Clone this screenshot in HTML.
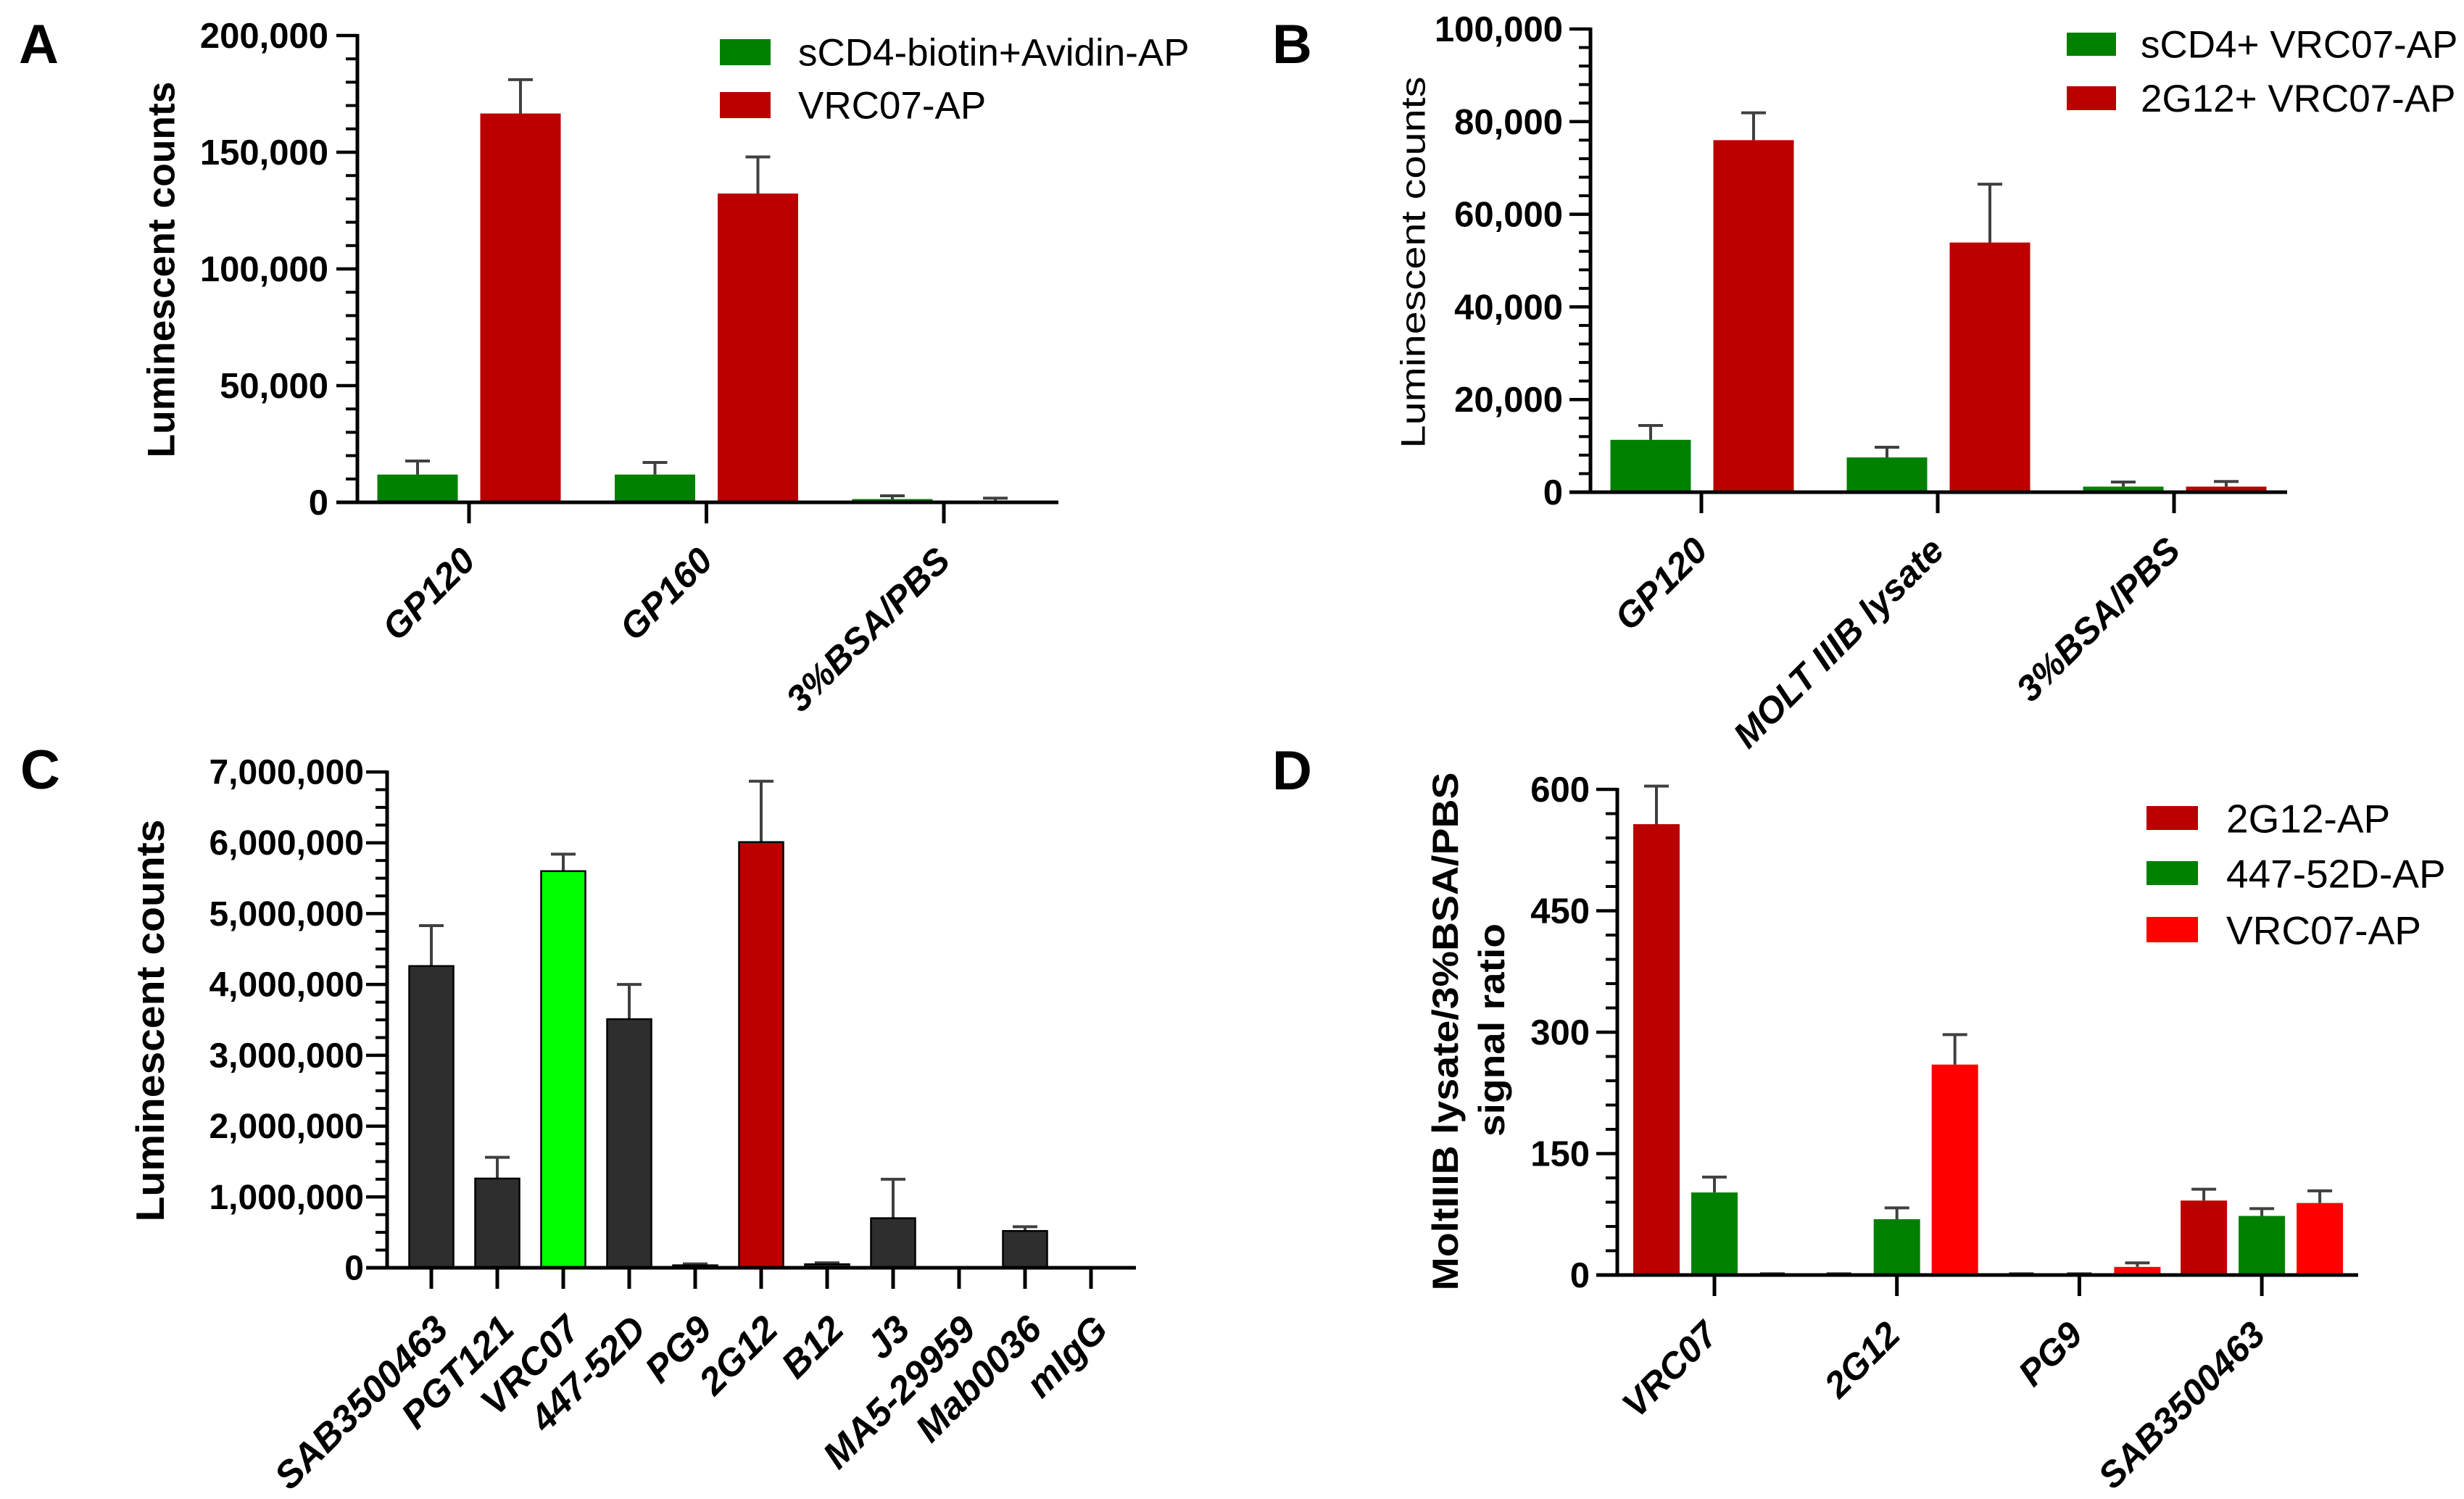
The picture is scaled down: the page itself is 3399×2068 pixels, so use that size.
<!DOCTYPE html>
<html>
<head>
<meta charset="utf-8">
<style>
html,body{margin:0;padding:0;background:#fff;overflow:hidden;}
svg{display:block;}
text{font-family:"Liberation Sans",Arial,sans-serif;}
</style>
</head>
<body>
<svg id="fig" xmlns="http://www.w3.org/2000/svg" width="3399" height="2068" viewBox="0 0 3399 2068">
<rect x="0" y="0" width="3399" height="2068" fill="#fff"/>
</svg>
<script>
// ---------- data ----------
const aCats = ["GP120", "GP160", "3%BSA/PBS"];
const aSeriesNames = ["sCD4-biotin+Avidin-AP", "VRC07-AP"];
const aGreen = [11900, 11900, 1400];
const aGreenSd = [5800, 5200, 1400];
const aRed = [166600, 132300, 500];
const aRedSd = [14500, 15700, 1300];
const aTicks = [0, 50000, 100000, 150000, 200000];
const aTickLabels = ["0", "50,000", "100,000", "150,000", "200,000"];

const bCats = ["GP120", "MOLT IIIB lysate", "3%BSA/PBS"];
const bSeriesNames = ["sCD4+ VRC07-AP", "2G12+ VRC07-AP"];
const bGreen = [11300, 7500, 1200];
const bGreenSd = [3100, 2200, 1000];
const bRed = [76000, 53900, 1200];
const bRedSd = [5900, 12600, 1100];
const bTicks = [0, 20000, 40000, 60000, 80000, 100000];
const bTickLabels = ["0", "20,000", "40,000", "60,000", "80,000", "100,000"];

const cCats = ["SAB3500463", "PGT121", "VRC07", "447-52D", "PG9", "2G12", "B12", "J3", "MA5-29959", "Mab0036", "mIgG"];
const cVals = [4260000, 1260000, 5600000, 3510000, 35000, 6010000, 50000, 700000, 0, 520000, 0];
const cSd = [570000, 300000, 240000, 490000, 20000, 860000, 20000, 550000, 0, 60000, 0];
const cTicks = [0, 1000000, 2000000, 3000000, 4000000, 5000000, 6000000, 7000000];
const cTickLabels = ["0", "1,000,000", "2,000,000", "3,000,000", "4,000,000", "5,000,000", "6,000,000", "7,000,000"];

const dCats = ["VRC07", "2G12", "PG9", "SAB3500463"];
const dSeriesNames = ["2G12-AP", "447-52D-AP", "VRC07-AP"];
const d2G12 = [557, 1, 1, 92];
const d2G12Sd = [47, 0.6, 0.6, 14];
const d447 = [102, 69, 1, 73];
const d447Sd = [19, 14, 0.6, 9];
const dVRC = [1, 260, 10, 89];
const dVRCSd = [0.6, 37, 5, 15];
const dTicks = [0, 150, 300, 450, 600];
const dTickLabels = ["0", "150", "300", "450", "600"];

// ---------- helpers ----------
const NS = "http://www.w3.org/2000/svg";
const svg = document.getElementById("fig");
function mk(tag, parent) { const e = document.createElementNS(NS, tag); parent.appendChild(e); return e; }
function txt(parent, str, x, y, size, o) {
  const t = mk("text", parent);
  t.textContent = str;
  t.setAttribute("transform", "translate(" + x + "," + y + ") rotate(" + (o.rot || 0) + ")");
  t.setAttribute("font-size", size);
  t.setAttribute("font-weight", o.weight || "bold");
  if (o.italic) t.setAttribute("font-style", "italic");
  t.setAttribute("text-anchor", o.anchor || "start");
  t.setAttribute("dominant-baseline", o.baseline || "central");
  t.setAttribute("fill", "#000");
  if (o.len) { t.setAttribute("textLength", o.len); t.setAttribute("lengthAdjust", "spacingAndGlyphs"); }
  return t;
}
function line(parent, x1, y1, x2, y2, w, c) {
  const l = mk("line", parent);
  l.setAttribute("x1", x1); l.setAttribute("y1", y1); l.setAttribute("x2", x2); l.setAttribute("y2", y2);
  l.setAttribute("stroke", c || "#000"); l.setAttribute("stroke-width", w);
  return l;
}

function drawChart(cfg) {
  const g = mk("g", svg);
  
  
  const yScale = v => cfg.y0 - (v / cfg.max) * (cfg.y0 - cfg.yTop);
  const xScale = i => cfg.catStart + i * cfg.catStep;

  for (let v = 0; v <= cfg.max + 1e-9; v += cfg.minor) {
    const tk = line(g, cfg.axisX - 16, yScale(v), cfg.axisX, yScale(v), 4);
    
    
  }
  cfg.ticks.forEach((v, i) => {
    const tk = line(g, cfg.axisX - 29, yScale(v), cfg.axisX, yScale(v), 4.5);
    
    
    const lb = txt(g, cfg.tickLabels[i], cfg.axisX - cfg.labelGap, yScale(v) + 1, cfg.tickSize, { anchor: "end" });
    
    
  });

  cfg.series.forEach((s, si) => {
    s.vals.forEach((v, i) => {
      const cx = xScale(i) + cfg.offsets[si];
      const col = s.colors ? s.colors[i] : s.color;
      const top = yScale(v);
      const eb = yScale(v + s.sd[i]);
      const el = line(g, cx, top, cx, eb, 4, "#404040");
      
      
      const cap = line(g, cx - 17, eb, cx + 17, eb, 4, "#404040");
      
      
      const r = mk("rect", g);
      r.setAttribute("x", cx - cfg.barW / 2);
      r.setAttribute("y", top);
      r.setAttribute("width", cfg.barW);
      r.setAttribute("height", Math.max(0, cfg.y0 - top));
      r.setAttribute("fill", col);
      if (cfg.outline) { r.setAttribute("stroke", "#000"); r.setAttribute("stroke-width", 2.5); }
      
      
    });
  });

  const ya = line(g, cfg.axisX, cfg.yTop - 2, cfg.axisX, cfg.y0 + 2, 5);
  
  
  const xa = line(g, cfg.axisX - 29, cfg.y0, cfg.xEnd, cfg.y0, 5);
  
  

  cfg.cats.forEach((c, i) => {
    const x = xScale(i);
    const tk = line(g, x, cfg.y0, x, cfg.y0 + 29, 5);
    
    
    const lb = txt(g, c, x + cfg.catDx, cfg.y0 + cfg.catDy, cfg.catSize, { anchor: "end", italic: true, rot: -45, baseline: "hanging" });
    
    
  });

  cfg.yTitles.forEach(t => {
    const yt = txt(g, t.text, t.x, t.y, t.size, { anchor: "middle", rot: -90, weight: t.weight, len: t.len });
    
    
  });

  (cfg.legend || []).forEach(L => {
    const sw = mk("rect", g);
    sw.setAttribute("x", L.x); sw.setAttribute("y", L.y);
    sw.setAttribute("width", L.w); sw.setAttribute("height", L.h);
    sw.setAttribute("fill", L.color);
    
    
    const lt = txt(g, L.text, L.tx, L.y + L.h / 2 + 1, L.size, { weight: "normal" });
    
    
  });

  const pl = txt(g, cfg.letter, cfg.letterX, cfg.letterY, 76, { baseline: "alphabetic" });
  
  
}

const GREEN = "#008000", DRED = "#bb0000", RED = "#ff0000", LIME = "#00ff00", DARK = "#2e2e2e";

drawChart({
  name: "panel-a-chart", letter: "A", letterX: 26, letterY: 87,
  axisX: 493, y0: 693, yTop: 49, max: 200000, minor: 10000, xEnd: 1460,
  ticks: aTicks, tickLabels: aTickLabels, tickSize: 49, labelGap: 40,
  cats: aCats, catStart: 647, catStep: 327.5, barW: 111, offsets: [-71, 71], catSize: 50, catDx: -14, catDy: 58,
  series: [{ vals: aGreen, sd: aGreenSd, color: GREEN }, { vals: aRed, sd: aRedSd, color: DRED }],
  yTitles: [{ text: "Luminescent counts", x: 223, y: 372, size: 53, weight: "bold", len: 519 }],
  legend: [
    { x: 993, y: 54, w: 70, h: 36, color: GREEN, text: aSeriesNames[0], tx: 1101, size: 53 },
    { x: 993, y: 127, w: 70, h: 36, color: DRED, text: aSeriesNames[1], tx: 1101, size: 53 }
  ]
});

drawChart({
  name: "panel-b-chart", letter: "B", letterX: 1755, letterY: 87,
  axisX: 2194, y0: 679, yTop: 40, max: 100000, minor: 4000, xEnd: 3155,
  ticks: bTicks, tickLabels: bTickLabels, tickSize: 49, labelGap: 38,
  cats: bCats, catStart: 2347, catStep: 326, barW: 111, offsets: [-70, 72], catSize: 50, catDx: -14, catDy: 58,
  series: [{ vals: bGreen, sd: bGreenSd, color: GREEN }, { vals: bRed, sd: bRedSd, color: DRED }],
  yTitles: [{ text: "Luminescent counts", x: 1949, y: 362, size: 47, weight: "normal", len: 513 }],
  legend: [
    { x: 2851, y: 45, w: 68, h: 32, color: GREEN, text: bSeriesNames[0], tx: 2953, size: 53 },
    { x: 2851, y: 119, w: 68, h: 33, color: DRED, text: bSeriesNames[1], tx: 2953, size: 53 }
  ]
});

drawChart({
  name: "panel-c-chart", letter: "C", letterX: 28, letterY: 1088,
  axisX: 534, y0: 1749, yTop: 1065, max: 7000000, minor: 250000, xEnd: 1567,
  ticks: cTicks, tickLabels: cTickLabels, tickSize: 48, labelGap: 32,
  cats: cCats, catStart: 595, catStep: 91, barW: 61, offsets: [0], catSize: 52, catDx: 0, catDy: 62, outline: true,
  series: [{ vals: cVals, sd: cSd, colors: [DARK, DARK, LIME, DARK, DARK, DRED, DARK, DARK, DARK, DARK, DARK] }],
  yTitles: [{ text: "Luminescent counts", x: 207, y: 1408, size: 55, weight: "bold", len: 555 }]
});

drawChart({
  name: "panel-d-chart", letter: "D", letterX: 1755, letterY: 1089,
  axisX: 2231, y0: 1759, yTop: 1089, max: 600, minor: 30, xEnd: 3253,
  ticks: dTicks, tickLabels: dTickLabels, tickSize: 49, labelGap: 38,
  cats: dCats, catStart: 2365, catStep: 251.7, barW: 64, offsets: [-80, 0, 80], catSize: 50, catDx: -18, catDy: 60,
  series: [{ vals: d2G12, sd: d2G12Sd, color: DRED }, { vals: d447, sd: d447Sd, color: GREEN }, { vals: dVRC, sd: dVRCSd, color: RED }],
  yTitles: [
    { text: "MoltIIIB lysate/3%BSA/PBS", x: 1994, y: 1423, size: 50, weight: "bold", len: 715 },
    { text: "signal ratio", x: 2058, y: 1421, size: 50, weight: "bold", len: 294 }
  ],
  legend: [
    { x: 2961, y: 1112, w: 71, h: 33, color: DRED, text: dSeriesNames[0], tx: 3071, size: 55 },
    { x: 2961, y: 1188, w: 71, h: 33, color: GREEN, text: dSeriesNames[1], tx: 3071, size: 55 },
    { x: 2961, y: 1265, w: 71, h: 35, color: RED, text: dSeriesNames[2], tx: 3071, size: 55 }
  ]
});
</script>
</body>
</html>
